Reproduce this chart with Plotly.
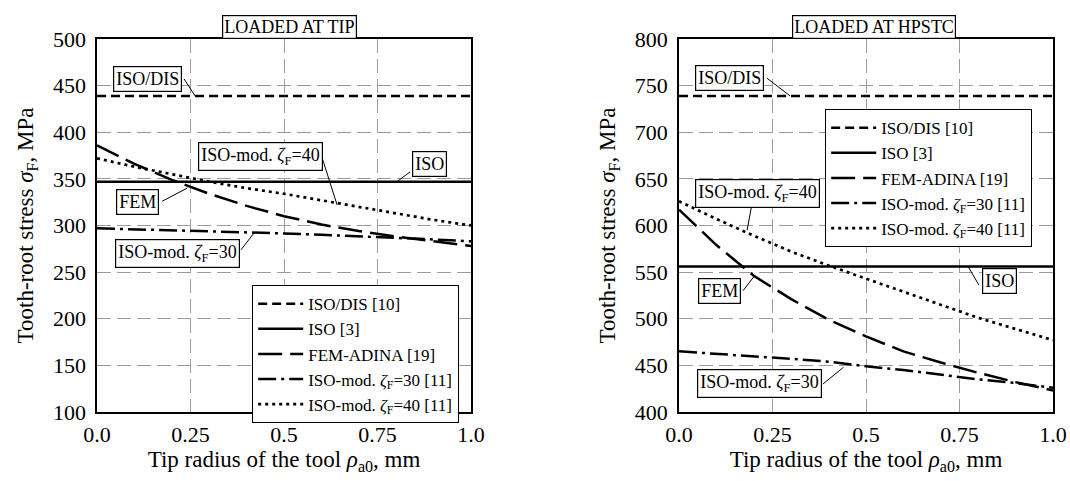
import plotly.graph_objects as go

# ---------------- data ----------------
x_radius = [0.0, 0.1, 0.2, 0.3, 0.4, 0.5, 0.6, 0.7, 0.8, 0.9, 1.0]

# Loaded at tip
tip_isodis = [439, 439, 439, 439, 439, 439, 439, 439, 439, 439, 439]
tip_iso    = [347, 347, 347, 347, 347, 347, 347, 347, 347, 347, 347]
tip_fem    = [386, 366, 349, 334, 321, 310, 301, 294, 288, 283, 278]
tip_z30    = [297, 296, 295, 294, 293, 291.5, 290, 288.5, 287, 285, 283]
tip_z40    = [372, 363, 355, 347, 340, 334, 327, 320, 313, 306, 300]

# Loaded at HPSTC
hp_isodis = [739, 739, 739, 739, 739, 739, 739, 739, 739, 739, 739]
hp_iso    = [556, 556, 556, 556, 556, 556, 556, 556, 556, 556, 556]
hp_fem    = [617, 579, 546, 521, 499, 481, 465, 453, 442, 432, 423]
hp_z30    = [465, 462.5, 460, 457, 454, 449, 445, 440, 435, 431, 426]
hp_z40    = [626, 607, 589, 572, 557, 543, 529, 515, 501, 489, 477]

series_names = ["ISO/DIS [10]", "ISO [3]", "FEM-ADINA [19]",
                "ISO-mod. <i>ζ</i><sub>F</sub>=30 [11]",
                "ISO-mod. <i>ζ</i><sub>F</sub>=40 [11]"]

x_tickvals = [0, 0.25, 0.5, 0.75, 1.0]
x_ticktext = ["0.0", "0.25", "0.5", "0.75", "1.0"]

# ---------------- styles ----------------
FONT = "Liberation Serif, Times New Roman, serif"
dashes = ["9px,5px", "solid", "24px,8px", "18px,5px,3px,5px", "3px,4px"]
widths = [2.5, 2.5, 2.5, 2.5, 2.7]

fig = go.Figure()

tip_series = [tip_isodis, tip_iso, tip_fem, tip_z30, tip_z40]
hp_series = [hp_isodis, hp_iso, hp_fem, hp_z30, hp_z40]

for name, ys, d, w in zip(series_names, tip_series, dashes, widths):
    fig.add_trace(go.Scatter(x=x_radius, y=ys, mode="lines", name=name,
                             line=dict(color="black", width=w, dash=d),
                             xaxis="x", yaxis="y", legend="legend"))
for name, ys, d, w in zip(series_names, hp_series, dashes, widths):
    fig.add_trace(go.Scatter(x=x_radius, y=ys, mode="lines", name=name,
                             line=dict(color="black", width=w, dash=d),
                             xaxis="x2", yaxis="y2", legend="legend2"))

ydom = [0.1435, 0.9189]
axis_common = dict(showline=True, linecolor="black", linewidth=1.5, mirror=True,
                   showgrid=True, gridcolor="#9a9a9a", gridwidth=1, griddash="14px,6px",
                   zeroline=False, ticks="", automargin=False,
                   tickfont=dict(family=FONT, size=22, color="black"))

xt = dict(text="Tip radius of the tool <i>ρ</i><sub>a0</sub>, mm",
          font=dict(family=FONT, size=23, color="black"), standoff=5)
yt = dict(text="Tooth-root stress <i>σ</i><sub>F</sub>, MPa",
          font=dict(family=FONT, size=23, color="black"), standoff=13)

leg_common = dict(xanchor="left", yanchor="top", bgcolor="white",
                  bordercolor="black", borderwidth=1.2,
                  font=dict(family=FONT, size=17, color="black"),
                  tracegroupgap=0, itemwidth=45)

fig.update_layout(
    width=1070, height=481, autosize=False,
    margin=dict(l=0, r=0, t=0, b=0),
    paper_bgcolor="white", plot_bgcolor="white",
    font=dict(family=FONT, color="black"),
    xaxis=dict(domain=[0.0907, 0.4402], range=[0, 1], anchor="y",
               tickvals=x_tickvals, ticktext=x_ticktext, title=xt,
               ticklabelstandoff=2, **axis_common),
    yaxis=dict(domain=ydom, range=[100, 500], anchor="x", dtick=50,
               title=yt, ticklabelstandoff=5, **axis_common),
    xaxis2=dict(domain=[0.6346, 0.9841], range=[0, 1], anchor="y2",
                tickvals=x_tickvals, ticktext=x_ticktext, title=xt,
                ticklabelstandoff=2, **axis_common),
    yaxis2=dict(domain=ydom, range=[400, 800], anchor="x2", dtick=50,
                title=yt, ticklabelstandoff=5, **axis_common),
    legend=dict(x=0.2355, y=0.4075, **leg_common),
    legend2=dict(x=0.771, y=0.7734, **leg_common),
)

# Panel titles (boxed)
for txt, xc in [("LOADED AT TIP", 0.271), ("LOADED AT HPSTC", 0.8168)]:
    fig.add_annotation(text=txt, xref="paper", yref="paper", x=xc, y=0.943,
                       xanchor="center", yanchor="middle",
                       showarrow=False, font=dict(family=FONT, size=18, color="black"),
                       bordercolor="black", borderwidth=1.2, borderpad=1, bgcolor="white")

# Boxed curve labels with leader lines: (text, label x, label y, line start, line end)
labels_tip = [
    ("ISO/DIS", 0.136, 457.6, (0.233, 457), (0.262, 439)),
    ("ISO-mod. <i>ζ</i><sub>F</sub>=40", 0.436, 373.5, (0.602, 372.4), (0.642, 322)),
    ("ISO", 0.888, 366, (0.837, 357.4), (0.802, 347)),
    ("FEM", 0.107, 325.7, (0.174, 326), (0.241, 340)),
    ("ISO-mod. <i>ζ</i><sub>F</sub>=30", 0.214, 270, (0.385, 274), (0.422, 293)),
]
labels_hp = [
    ("ISO/DIS", 0.136, 758.7, (0.235, 758), (0.297, 739)),
    ("ISO-mod. <i>ζ</i><sub>F</sub>=40", 0.211, 633.8, (0.195, 623), (0.182, 595)),
    ("FEM", 0.107, 529.8, (0.171, 530), (0.20, 545)),
    ("ISO", 0.856, 540, (0.802, 536), (0.773, 556)),
    ("ISO-mod. <i>ζ</i><sub>F</sub>=30", 0.214, 431, (0.385, 430), (0.44, 448)),
]

for labels, xr, yr in [(labels_tip, "x", "y"), (labels_hp, "x2", "y2")]:
    for txt, lx, ly, p0, p1 in labels:
        fig.add_shape(type="line", xref=xr, yref=yr, x0=p0[0], y0=p0[1], x1=p1[0], y1=p1[1],
                      line=dict(color="black", width=1))
        fig.add_annotation(text=txt, xref=xr, yref=yr, x=lx, y=ly, showarrow=False,
                           xanchor="center", yanchor="middle",
                           font=dict(family=FONT, size=18, color="black"),
                           bordercolor="black", borderwidth=1.2, borderpad=2, bgcolor="white")

fig.write_html("out.html", config={"displayModeBar": False},
               post_script="document.body.style.margin='0';")
